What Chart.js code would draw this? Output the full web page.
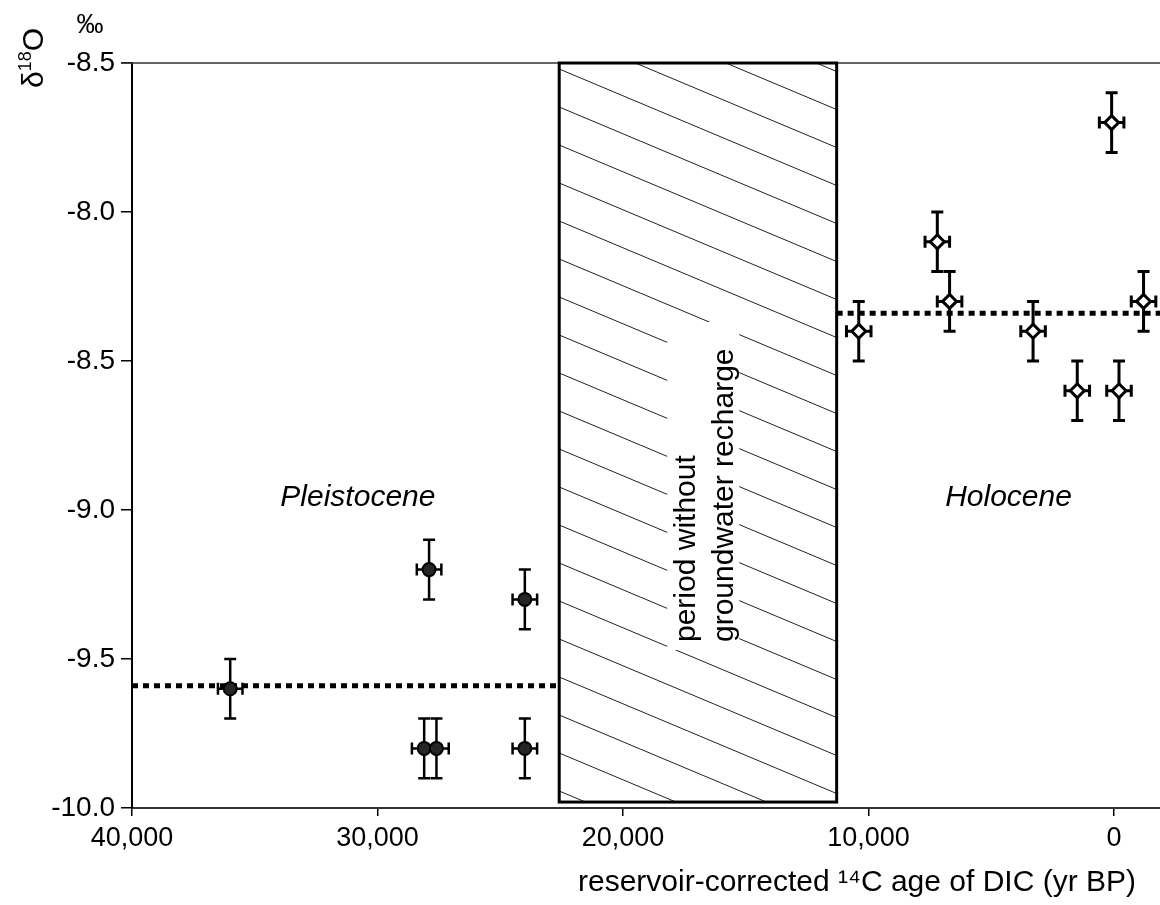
<!DOCTYPE html>
<html lang="en">
<head>
<meta charset="UTF-8">
<title>δ18O vs reservoir-corrected 14C age</title>
<script src="https://cdn.jsdelivr.net/npm/chart.js@4.4.0/dist/chart.umd.min.js"></script>
<style>
  body { margin: 0; background: #fff; }
  #wrap { width: 1160px; height: 905px; }
</style>
</head>
<body>
<div id="wrap"><canvas id="isoChart" width="1160" height="905"></canvas></div>
<script>
// Pleistocene samples (filled circles)
const pleistoAge = [36000, 27900, 24000, 28100, 27600, 24000];
const pleistoD18O = [-9.6, -9.2, -9.3, -9.8, -9.8, -9.8];
// Holocene samples (open diamonds)
const holoAge = [10400, 7200, 6700, 3300, 1500, -200, 100, -1200];
const holoD18O = [-8.4, -8.1, -8.3, -8.4, -8.6, -8.6, -7.7, -8.3];
// analytical uncertainties
const ageErr = 500;
const d18OErr = 0.1;
// period means
const pleistoMean = -9.59;
const holoMean = -8.34;
// interval with no recharge
const gapStart = 22600;
const gapEnd = 11300;
const gapBottom = -9.98;

const xTicks = [40000, 30000, 20000, 10000, 0];
const xTickLabels = ['40,000', '30,000', '20,000', '10,000', '0'];
const yTicks = [-10.0, -9.5, -9.0, -8.5, -8.0, -7.5];
const yTickLabels = ['-10.0', '-9.5', '-9.0', '-8.5', '-8.0', '-8.5'];
const xMin = -1870, xMax = 40000;
const yMin = -10.0, yMax = -7.5;

const FONT = 'Arial, "Liberation Sans", sans-serif';

const toPoints = (xs, ys) => xs.map((x, i) => ({ x: x, y: ys[i] }));

// error bars, hatched gap box and all the free text
const decor = {
  id: 'decor',
  beforeDatasetsDraw(chart) {
    const { ctx, chartArea: a, scales: { x, y } } = chart;
    ctx.save();

    // top frame line
    ctx.strokeStyle = '#333';
    ctx.lineWidth = 1.5;
    ctx.beginPath();
    ctx.moveTo(a.left - 11, a.top);
    ctx.lineTo(a.right, a.top);
    ctx.stroke();

    // hatched box
    const bx0 = x.getPixelForValue(gapStart), bx1 = x.getPixelForValue(gapEnd);
    const by0 = y.getPixelForValue(yMax), by1 = y.getPixelForValue(gapBottom);
    ctx.save();
    ctx.beginPath();
    ctx.rect(bx0, by0, bx1 - bx0, by1 - by0);
    ctx.clip();
    ctx.strokeStyle = '#222';
    ctx.lineWidth = 1;
    const slope = 0.42, gap = 38;
    const drop = slope * (bx1 - bx0);
    for (let yy = by0 + 6 - Math.ceil(drop / gap) * gap; yy < by1 + gap; yy += gap) {
      ctx.beginPath();
      ctx.moveTo(bx0, yy);
      ctx.lineTo(bx1, yy + drop);
      ctx.stroke();
    }
    // clear the hatch behind the caption
    ctx.fillStyle = '#fff';
    ctx.fillRect(bx0 + 108, 322, 72, 328);
    ctx.restore();

    ctx.strokeStyle = '#000';
    ctx.lineWidth = 3;
    ctx.strokeRect(bx0, by0, bx1 - bx0, by1 - by0);

    // rotated caption
    ctx.fillStyle = '#000';
    ctx.font = '30px ' + FONT;
    ctx.textAlign = 'left';
    ctx.textBaseline = 'middle';
    [['period without', bx0 + 128], ['groundwater recharge', bx0 + 166]].forEach(([t, px]) => {
      ctx.save();
      ctx.translate(px, 642);
      ctx.rotate(-Math.PI / 2);
      ctx.fillText(t, 0, 0);
      ctx.restore();
    });

    // error bars
    const bars = (ages, vals, lw) => {
      ctx.strokeStyle = '#000';
      ctx.lineWidth = lw;
      ages.forEach((age, i) => {
        const px = x.getPixelForValue(age), py = y.getPixelForValue(vals[i]);
        const yt = y.getPixelForValue(vals[i] + d18OErr), yb = y.getPixelForValue(vals[i] - d18OErr);
        const xl = x.getPixelForValue(age + ageErr), xr = x.getPixelForValue(age - ageErr);
        ctx.beginPath();
        ctx.moveTo(px, yt); ctx.lineTo(px, yb);
        ctx.moveTo(px - 6, yt); ctx.lineTo(px + 6, yt);
        ctx.moveTo(px - 6, yb); ctx.lineTo(px + 6, yb);
        ctx.moveTo(xl, py); ctx.lineTo(xr, py);
        ctx.moveTo(xl, py - 6); ctx.lineTo(xl, py + 6);
        ctx.moveTo(xr, py - 6); ctx.lineTo(xr, py + 6);
        ctx.stroke();
      });
    };
    bars(pleistoAge, pleistoD18O, 2.5);
    bars(holoAge, holoD18O, 3);
    ctx.restore();
  },
  afterDraw(chart) {
    const { ctx, scales: { x, y } } = chart;
    ctx.save();
    ctx.fillStyle = '#000';

    // era names
    ctx.font = 'italic 30px ' + FONT;
    ctx.textAlign = 'center';
    ctx.textBaseline = 'middle';
    ctx.fillText('Pleistocene', x.getPixelForValue(30800), y.getPixelForValue(-8.96));
    ctx.fillText('Holocene', x.getPixelForValue(4300), y.getPixelForValue(-8.96));

    // x axis title
    ctx.font = '30px ' + FONT;
    ctx.textAlign = 'right';
    ctx.textBaseline = 'alphabetic';
    ctx.fillText('reservoir-corrected \u00B9\u2074C age of DIC (yr BP)', 1136, 891);

    // y axis title: δ18O with raised 18, plus per-mil sign
    ctx.save();
    ctx.translate(43, 88);
    ctx.rotate(-Math.PI / 2);
    ctx.textAlign = 'left';
    ctx.font = '30px ' + FONT;
    ctx.fillText('\u03B4', 0, 0);
    let off = ctx.measureText('\u03B4').width;
    ctx.font = '18px ' + FONT;
    ctx.fillText('18', off, -12);
    off += ctx.measureText('18').width;
    ctx.font = '30px ' + FONT;
    ctx.fillText('O', off, 0);
    ctx.restore();

    ctx.font = '27px ' + FONT;
    ctx.textAlign = 'center';
    ctx.fillText('\u2030', 90, 33);
    ctx.restore();
  }
};

const ctx = document.getElementById('isoChart').getContext('2d');
new Chart(ctx, {
  type: 'scatter',
  data: {
    datasets: [
      {
        label: 'Pleistocene',
        data: toPoints(pleistoAge, pleistoD18O),
        pointStyle: 'circle',
        pointRadius: 6.5,
        backgroundColor: '#262626',
        borderColor: '#000',
        borderWidth: 2,
        order: 0
      },
      {
        label: 'Holocene',
        data: toPoints(holoAge, holoD18O),
        pointStyle: 'rectRot',
        pointRadius: 7,
        backgroundColor: '#fff',
        borderColor: '#000',
        borderWidth: 3,
        order: 0
      },
      {
        type: 'line',
        label: 'Pleistocene mean',
        data: [{ x: xMax, y: pleistoMean }, { x: gapStart, y: pleistoMean }],
        borderColor: '#000',
        borderWidth: 5,
        borderDash: [6, 5],
        pointRadius: 0,
        order: 1
      },
      {
        type: 'line',
        label: 'Holocene mean',
        data: [{ x: gapEnd, y: holoMean }, { x: xMin, y: holoMean }],
        borderColor: '#000',
        borderWidth: 5,
        borderDash: [6, 5],
        pointRadius: 0,
        order: 1
      }
    ]
  },
  options: {
    responsive: false,
    animation: false,
    layout: { autoPadding: false, padding: { top: 63, left: 0, right: 0, bottom: 0 } },
    plugins: {
      legend: { display: false },
      tooltip: { enabled: false }
    },
    scales: {
      x: {
        type: 'linear',
        reverse: true,
        min: xMin,
        max: xMax,
        afterBuildTicks: s => { s.ticks = xTicks.map(v => ({ value: v })); },
        afterFit: s => { s.height = 97; s.paddingLeft = 0; s.paddingRight = 0; },
        ticks: {
          callback: (v, i) => xTickLabels[i],
          font: { size: 27, family: FONT },
          color: '#000',
          padding: 6,
          maxRotation: 0,
          autoSkip: false
        },
        grid: { drawOnChartArea: false, tickLength: 8, color: '#000', lineWidth: 1.5 },
        border: { color: '#333', width: 2 }
      },
      y: {
        type: 'linear',
        min: yMin,
        max: yMax,
        afterBuildTicks: s => { s.ticks = yTicks.map(v => ({ value: v })); },
        afterFit: s => { s.width = 132; },
        ticks: {
          callback: (v, i) => yTickLabels[i],
          font: { size: 28, family: FONT },
          color: '#000',
          padding: 6,
          autoSkip: false
        },
        grid: { drawOnChartArea: false, tickLength: 11, color: '#000', lineWidth: 1.5 },
        border: { color: '#000', width: 2 }
      }
    }
  },
  plugins: [decor]
});
</script>
</body>
</html>
